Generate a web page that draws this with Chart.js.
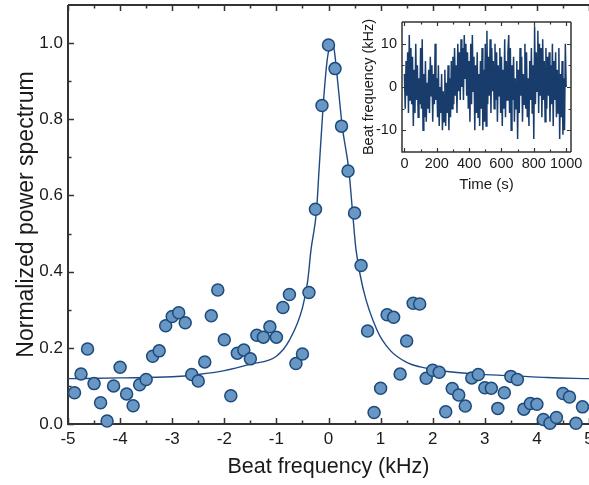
<!DOCTYPE html>
<html>
<head>
<meta charset="utf-8">
<script src="https://cdn.jsdelivr.net/npm/chart.js@4.4.1/dist/chart.umd.min.js"></script>
<style>
  html, body { margin: 0; padding: 0; background: #fff; }
  #wrap { position: relative; width: 589px; height: 485px; overflow: hidden; }
  #mainChart { position: absolute; left: 0; top: 0; }
  #insetChart { position: absolute; left: 350px; top: 10px; }
</style>
</head>
<body>
<div id="wrap">
  <canvas id="mainChart" width="589" height="485"></canvas>
  <canvas id="insetChart" width="239" height="190"></canvas>
</div>
<script>
// measured spectrum (points), kHz vs normalized power
const beatFreq = [-4.875,-4.75,-4.625,-4.5,-4.375,-4.25,-4.125,-4.0,-3.875,-3.75,
  -3.625,-3.5,-3.375,-3.25,-3.125,-3.0,-2.875,-2.75,-2.625,-2.5,
  -2.375,-2.25,-2.125,-2.0,-1.875,-1.75,-1.625,-1.5,-1.375,-1.25,
  -1.125,-1.0,-0.875,-0.75,-0.625,-0.5,-0.375,-0.25,-0.125,0,
  0.125,0.25,0.375,0.5,0.625,0.75,0.875,1.0,1.125,1.25,
  1.375,1.5,1.625,1.75,1.875,2.0,2.125,2.25,2.375,2.5,
  2.625,2.75,2.875,3.0,3.125,3.25,3.375,3.5,3.625,3.75,
  3.875,4.0,4.125,4.25,4.375,4.5,4.625,4.75,4.875];
const powerMeasured = [0.082,0.131,0.197,0.106,0.056,0.008,0.100,0.149,0.079,0.048,
  0.103,0.117,0.178,0.192,0.258,0.282,0.292,0.266,0.130,0.113,
  0.163,0.284,0.352,0.221,0.074,0.186,0.194,0.171,0.233,0.228,
  0.255,0.228,0.306,0.340,0.159,0.184,0.345,0.564,0.836,0.995,
  0.933,0.782,0.664,0.554,0.416,0.244,0.030,0.094,0.287,0.280,
  0.131,0.218,0.317,0.315,0.120,0.141,0.136,0.032,0.093,0.076,
  0.047,0.121,0.130,0.095,0.094,0.041,0.082,0.125,0.117,0.039,
  0.054,0.052,0.012,0.002,0.017,0.080,0.071,0.002,0.045];

// fit curve
const fitFreq  = [-5.0,-4.0,-3.0,-2.5,-2.0,-1.5,-1.0,-0.75,-0.5,-0.4,-0.336,-0.23,-0.18,-0.1,-0.03,0.02,0.06,
  0.10,0.13,0.19,0.265,0.39,0.46,0.528,0.67,0.93,1.18,1.5,1.76,2.2,2.84,3.48,4.2,5.0];
const fitPower = [0.119,0.121,0.124,0.130,0.140,0.157,0.178,0.220,0.305,0.375,0.457,0.560,0.670,0.840,0.950,0.990,1.0,
  0.990,0.960,0.880,0.780,0.667,0.560,0.457,0.352,0.247,0.194,0.162,0.150,0.139,0.131,0.127,0.122,0.119];

// inset: beat frequency drift over time
const driftTime = [0,5,10,15,20,25,30,35,40,45,50,55,60,65,70,75,80,85,90,95,
  100,105,110,115,120,125,130,135,140,145,150,155,160,165,170,175,180,185,190,195,
  200,205,210,215,220,225,230,235,240,245,250,255,260,265,270,275,280,285,290,295,
  300,305,310,315,320,325,330,335,340,345,350,355,360,365,370,375,380,385,390,395,
  400,405,410,415,420,425,430,435,440,445,450,455,460,465,470,475,480,485,490,495,
  500,505,510,515,520,525,530,535,540,545,550,555,560,565,570,575,580,585,590,595,
  600,605,610,615,620,625,630,635,640,645,650,655,660,665,670,675,680,685,690,695,
  700,705,710,715,720,725,730,735,740,745,750,755,760,765,770,775,780,785,790,795,
  800,805,810,815,820,825,830,835,840,845,850,855,860,865,870,875,880,885,890,895,
  900,905,910,915,920,925,930,935,940,945,950,955,960,965,970,975,980,985,990,995,1000];
const driftKHz = [3,-5,6,-2,8,-6,12,-3,9,-4,
  7,-9,4,-6,10,-3,5,-7,2,-4,
  9,-5,11,-10,3,-7,6,-8,1,-5,
  4,-6,7,-2,5,-8,3,-4,10,-3,
  2,-7,5,-9,0,-6,3,-10,-1,-8,
  4,-9,1,-6,5,-10,2,-7,6,-5,
  7,-4,9,-2,5,-6,10,-1,8,-3,
  11,0,9,-3,12,2,10,-2,8,-5,
  6,-8,10,-4,12,-1,7,-10,5,-6,
  8,-7,3,-9,6,-5,9,-10,4,-8,
  10,-9,13,-4,7,-2,11,-6,9,-1,
  6,-5,10,-3,8,-8,5,-2,9,-6,
  7,-9,4,-5,11,-7,6,-3,8,12,
  -6,9,-10,5,-3,7,-8,2,-5,6,
  -12,4,-6,9,-2,7,-8,3,-4,10,
  -5,8,-7,2,-9,6,-3,9,-6,5,
  -12,14,-4,8,-1,13,-6,10,-2,9,
  -7,11,-3,6,-8,9,-5,7,-2,8,
  -8,5,-4,10,-9,6,-3,8,-7,4,
  -6,9,-12,3,-7,6,-11,2,-10,10,
  0];

// tick positions
const mainXTicks = [-5,-4,-3,-2,-1,0,1,2,3,4,5];
const mainXMinor = [-4.5,-3.5,-2.5,-1.5,-0.5,0.5,1.5,2.5,3.5,4.5];
const mainYTicks = [0,0.2,0.4,0.6,0.8,1.0];
const mainYMinor = [0.1,0.3,0.5,0.7,0.9];
const insetXTicks = [0,200,400,600,800,1000];
const insetXMinor = [100,300,500,700,900];
const insetYTicks = [-10,0,10];
const insetYMinor = [-5,5];

const FONT = "'Liberation Sans', Arial, sans-serif";
Chart.defaults.font.family = FONT;
Chart.defaults.color = '#1a1a1a';

function setTicks(list){ return function(scale){ scale.ticks = list.map(v => ({value: v})); }; }

// frame + inward ticks, drawn under the data
function frameTicks(id, opts){
  return {
    id: id,
    beforeDatasetsDraw(chart){
      const {ctx, chartArea: a, scales: {x, y}} = chart;
      ctx.save();
      ctx.strokeStyle = '#333';
      ctx.lineWidth = opts.lw;
      ctx.beginPath();
      ctx.moveTo(a.left, a.top); ctx.lineTo(a.left, a.bottom); ctx.lineTo(a.right, a.bottom);
      ctx.moveTo(a.left, a.top); ctx.lineTo(a.right, a.top);
      if (opts.right) { ctx.moveTo(a.right, a.top); ctx.lineTo(a.right, a.bottom); }
      ctx.stroke();
      ctx.lineWidth = opts.tw;
      ctx.beginPath();
      const tx = (vals, len) => vals.forEach(v => {
        const p = Math.round(x.getPixelForValue(v)) + 0.5;
        ctx.moveTo(p, a.bottom); ctx.lineTo(p, a.bottom - len);
        ctx.moveTo(p, a.top); ctx.lineTo(p, a.top + len);
      });
      const ty = (vals, len) => vals.forEach(v => {
        const p = Math.round(y.getPixelForValue(v)) + 0.5;
        ctx.moveTo(a.left, p); ctx.lineTo(a.left + len, p);
        if (opts.right) { ctx.moveTo(a.right, p); ctx.lineTo(a.right - len, p); }
      });
      tx(opts.xMaj, opts.maj); tx(opts.xMin, opts.min);
      ty(opts.yMaj, opts.maj); ty(opts.yMin, opts.min);
      ctx.stroke();
      ctx.restore();
    }
  };
}

new Chart(document.getElementById('mainChart'), {
  type: 'scatter',
  data: {
    datasets: [
      { label: 'fit', data: fitFreq.map((f, i) => ({x: f, y: fitPower[i]})), showLine: true,
        borderColor: '#1f4a84', borderWidth: 1.4, pointRadius: 0, cubicInterpolationMode: 'monotone',
        fill: false, order: 2 },
      { label: 'data', data: beatFreq.map((f, i) => ({x: f, y: powerMeasured[i]})), showLine: false,
        pointRadius: 6, pointBackgroundColor: '#6997c3', pointBorderColor: '#1d4a7c', pointBorderWidth: 1.5,
        clip: false, order: 1 }
    ]
  },
  options: {
    responsive: false, animation: false, devicePixelRatio: 1,
    layout: { autoPadding: false, padding: { top: 5, left: 0, right: 0, bottom: 0 } },
    plugins: { legend: { display: false }, tooltip: { enabled: false } },
    scales: {
      x: { type: 'linear', min: -5, max: 5,
        grid: { display: false, drawTicks: false }, border: { display: false },
        afterBuildTicks: setTicks(mainXTicks),
        ticks: { font: { size: 17 }, padding: 5, maxRotation: 0, autoSkip: false, callback: v => String(v) },
        title: { display: true, text: 'Beat frequency (kHz)', font: { size: 21.5 }, padding: { top: 0, bottom: 5 } },
        afterFit: s => { s.height = 61; s.paddingLeft = 0; s.paddingRight = 0; } },
      y: { type: 'linear', min: 0, max: 1.1,
        grid: { display: false, drawTicks: false }, border: { display: false },
        afterBuildTicks: setTicks(mainYTicks),
        ticks: { font: { size: 17 }, padding: 5, callback: v => v.toFixed(1) },
        title: { display: true, text: 'Normalized power spectrum', font: { size: 23 }, padding: { top: 13, bottom: 0 } },
        afterFit: s => { s.width = 68; s.paddingTop = 0; s.paddingBottom = 0; } }
    }
  },
  plugins: [frameTicks('mainFrame', { lw: 2, tw: 1.5, maj: 6, min: 3.5, right: false,
    xMaj: mainXTicks, xMin: mainXMinor, yMaj: mainYTicks, yMin: mainYMinor })]
});

new Chart(document.getElementById('insetChart'), {
  type: 'scatter',
  data: {
    datasets: [
      { label: 'drift', data: driftTime.map((t, i) => ({x: t, y: driftKHz[i]})), showLine: true,
        borderColor: '#183c6c', borderWidth: 1.5, pointRadius: 0, tension: 0, fill: false }
    ]
  },
  options: {
    responsive: false, animation: false, devicePixelRatio: 1,
    layout: { autoPadding: false, padding: { top: 12, left: 0, right: 18, bottom: 0 } },
    plugins: { legend: { display: false }, tooltip: { enabled: false } },
    scales: {
      x: { type: 'linear', min: -15, max: 1030,
        grid: { display: false, drawTicks: false }, border: { display: false },
        afterBuildTicks: setTicks(insetXTicks),
        ticks: { font: { size: 14.5 }, padding: 3, maxRotation: 0, autoSkip: false, callback: v => String(v) },
        title: { display: true, text: 'Time (s)', font: { size: 15 }, padding: { top: 0, bottom: 6 } },
        afterFit: s => { s.height = 48; s.paddingLeft = 0; s.paddingRight = 0; } },
      y: { type: 'linear', min: -15, max: 15,
        grid: { display: false, drawTicks: false }, border: { display: false },
        afterBuildTicks: setTicks(insetYTicks),
        ticks: { font: { size: 14.5 }, padding: 5, callback: v => String(v) },
        title: { display: true, text: 'Beat frequency (kHz)', font: { size: 14.5 }, padding: { top: 10, bottom: 0 } },
        afterFit: s => { s.width = 52; s.paddingTop = 0; s.paddingBottom = 0; } }
    }
  },
  plugins: [frameTicks('insetFrame', { lw: 1.5, tw: 1.2, maj: 4, min: 2.5, right: true,
    xMaj: insetXTicks, xMin: insetXMinor, yMaj: insetYTicks, yMin: insetYMinor })]
});
</script>
</body>
</html>
